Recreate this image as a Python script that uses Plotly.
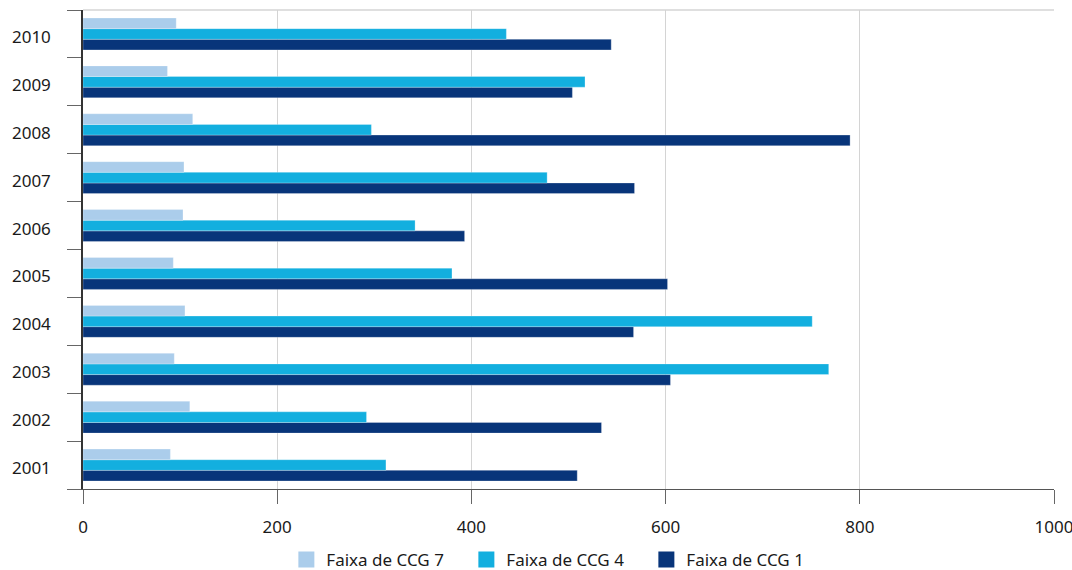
import plotly.graph_objects as go

# Years on the category axis (bottom to top)
years = ["2001", "2002", "2003", "2004", "2005", "2006", "2007", "2008", "2009", "2010"]

# Values per CCG band, in year order
ccg7 = [90, 110, 94, 105, 93, 103, 104, 113, 87, 96]
ccg4 = [312, 292, 768, 751, 380, 342, 478, 297, 517, 436]
ccg1 = [509, 534, 605, 567, 602, 393, 568, 790, 504, 544]

series_names = ["Faixa de CCG 7", "Faixa de CCG 4", "Faixa de CCG 1"]
series_colors = ["#abcdeb", "#13afdf", "#08357a"]

x_ticks = [0, 200, 400, 600, 800, 1000]

FONT = "Noto Sans"
FS = 17
fig = go.Figure()

# Bars are added bottom-of-group first: CCG 1, then CCG 4, then CCG 7 on top
for vals, name, color in [(ccg1, series_names[2], series_colors[2]),
                          (ccg4, series_names[1], series_colors[1]),
                          (ccg7, series_names[0], series_colors[0])]:
    fig.add_trace(go.Bar(
        x=vals, y=years, orientation="h", name=name,
        marker=dict(color=color, line=dict(color="rgba(255,255,255,0.45)", width=0.6)),
        showlegend=False,
    ))

# Square legend swatches
for name, color in zip(series_names, series_colors):
    fig.add_trace(go.Scatter(
        x=[None], y=[None], mode="markers", name=name,
        marker=dict(symbol="square", size=17, color=color),
        showlegend=True,
    ))

fig.update_layout(
    width=1072, height=570,
    margin=dict(l=83, r=18, t=10, b=81, autoexpand=False),
    paper_bgcolor="white", plot_bgcolor="white",
    barmode="group", bargap=1/3, bargroupgap=0,
    font=dict(family=FONT, size=FS, color="#1a1a1a"),
    legend=dict(
        orientation="h", x=0.519, xanchor="center", xref="container",
        y=-0.148, yanchor="middle", yref="paper",
        entrywidth=135, entrywidthmode="pixels",
        font=dict(family=FONT, size=FS, color="#1a1a1a"),
        itemclick=False, itemdoubleclick=False,
    ),
    xaxis=dict(
        range=[0, 1000], tickvals=x_ticks, ticktext=[str(v) for v in x_ticks],
        showgrid=True, gridcolor="#d4d4d4", gridwidth=1,
        zeroline=False,
        showline=True, linecolor="#555555", linewidth=1.3,
        ticks="outside", ticklen=14, tickcolor="#666666", tickwidth=1.3,
        ticklabelstandoff=8, ticklabeloverflow="allow",
        automargin=False,
        fixedrange=True,
    ),
    yaxis=dict(
        type="category", categoryorder="array", categoryarray=years,
        showgrid=False, zeroline=False,
        showline=True, linecolor="#333333", linewidth=1.5,
        ticks="outside", tickson="boundaries", ticklen=14,
        tickcolor="#666666", tickwidth=1.3,
        ticklabelstandoff=27, ticklabelshift=3,
        automargin=False,
        fixedrange=True,
    ),
    shapes=[dict(type="line", xref="paper", yref="paper", x0=0, x1=1, y0=1, y1=1,
                 line=dict(color="#d4d4d4", width=1.5), layer="below")],
)

fig.write_html("out.html")
